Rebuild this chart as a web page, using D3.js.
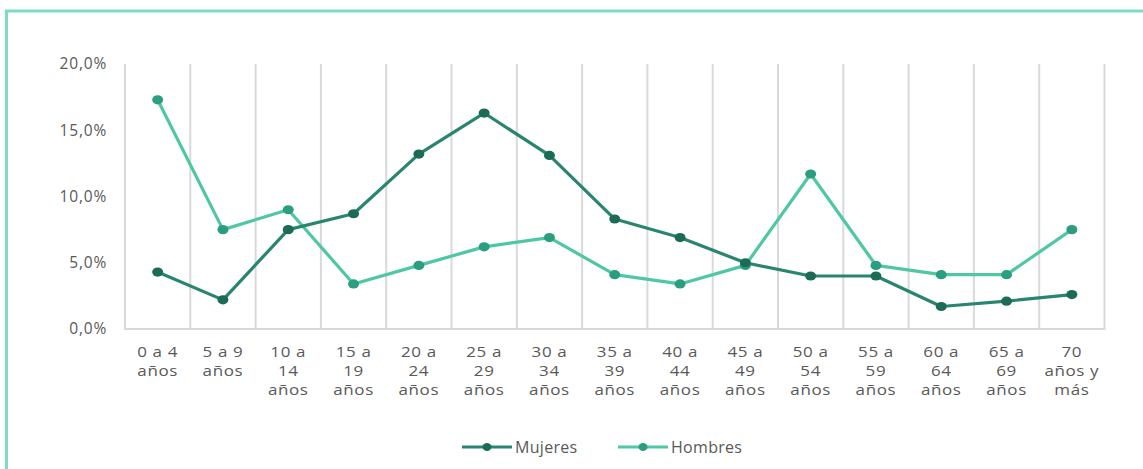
<!DOCTYPE html>
<html>
<head>
<meta charset="utf-8">
<script src="https://cdn.jsdelivr.net/npm/d3@7"></script>
<style>
  html, body { margin: 0; padding: 0; background: #fff; }
  svg { display: block; }
  text { font-family: "Open Sans", "DejaVu Sans", sans-serif; fill: #595959; }
</style>
</head>
<body>
<svg id="chart" width="1143" height="469"></svg>
<script>
const categories = ["0 a 4\naños", "5 a 9\naños", "10 a\n14\naños", "15 a\n19\naños", "20 a\n24\naños",
  "25 a\n29\naños", "30 a\n34\naños", "35 a\n39\naños", "40 a\n44\naños", "45 a\n49\naños",
  "50 a\n54\naños", "55 a\n59\naños", "60 a\n64\naños", "65 a\n69\naños", "70\naños y\nmás"];
const mujeres = [4.3, 2.2, 7.5, 8.7, 13.2, 16.3, 13.1, 8.3, 6.9, 5.0, 4.0, 4.0, 1.7, 2.1, 2.6];
const hombres = [17.3, 7.5, 9.0, 3.4, 4.8, 6.2, 6.9, 4.1, 3.4, 4.8, 11.7, 4.8, 4.1, 4.1, 7.5];
const yTicks = [0, 5, 10, 15, 20];
const seriesNames = ["Mujeres", "Hombres"];

const svg = d3.select("#chart");
const W = 1143, H = 469;

// frame
svg.append("path")
  .attr("d", `M6.5,${H} V11 H${W}`)
  .attr("fill", "none").attr("stroke", "#7fdcc4").attr("stroke-width", 3);

const plot = { left: 125, right: 1104.5, top: 64, bottom: 329 };

const x = d3.scaleBand().domain(categories).range([plot.left, plot.right]).paddingInner(0).paddingOuter(0);
const y = d3.scaleLinear().domain([0, 20]).range([plot.bottom, plot.top]);

// vertical grid lines at band boundaries
const bounds = categories.map(c => x(c)).concat([plot.right]);
svg.append("g").selectAll("line").data(bounds).join("line")
  .attr("x1", d => d).attr("x2", d => d)
  .attr("y1", plot.top).attr("y2", plot.bottom)
  .attr("stroke", "#d9d9d9").attr("stroke-width", 2);

// bottom axis line
svg.append("line")
  .attr("x1", plot.left - 1).attr("x2", plot.right + 1)
  .attr("y1", y(0)).attr("y2", y(0))
  .attr("stroke", "#d9d9d9").attr("stroke-width", 2);

// y axis labels
const yAxis = d3.axisLeft(y).tickValues(yTicks).tickSize(0).tickPadding(18)
  .tickFormat(d => d3.format(".1f")(d).replace(".", ",") + "%");
const yg = svg.append("g").attr("transform", `translate(${plot.left},0)`).call(yAxis);
yg.select(".domain").remove();
yg.selectAll("text").attr("font-size", 15.5).attr("letter-spacing", 0.8)
  .style("font-family", '"Open Sans", sans-serif').attr("fill", "#595959");

// x labels (one text per line, slightly widened like the reference)
const xg = svg.append("g");
categories.forEach(c => {
  const lines = c.split("\n");
  const cx = x(c) + x.bandwidth() / 2;
  lines.forEach((l, i) => {
    xg.append("text")
      .attr("transform", `translate(${cx},${357 + i * 19}) scale(1.25,1)`)
      .attr("text-anchor", "middle")
      .attr("font-size", 13.6)
      .attr("letter-spacing", 0.5)
      .text(l);
  });
});

const series = [
  { name: seriesNames[0], values: mujeres, line: "#2a8570", marker: "#1c6b56" },
  { name: seriesNames[1], values: hombres, line: "#4fc7a4", marker: "#2b9d81" }
];

const lineGen = d3.line()
  .x((d, i) => x(categories[i]) + x.bandwidth() / 2)
  .y(d => y(d));

[series[1], series[0]].forEach(s => {
  svg.append("path").datum(s.values)
    .attr("d", lineGen).attr("fill", "none")
    .attr("stroke", s.line).attr("stroke-width", 3.2)
    .attr("stroke-linejoin", "round");
  svg.append("g").selectAll("ellipse").data(s.values).join("ellipse")
    .attr("cx", (d, i) => x(categories[i]) + x.bandwidth() / 2)
    .attr("cy", d => y(d))
    .attr("rx", 5.5).attr("ry", 4.6)
    .attr("fill", s.marker);
});

// legend
const legendItems = [{ s: series[0], x0: 462 }, { s: series[1], x0: 618 }];
legendItems.forEach(({ s, x0 }) => {
  const g = svg.append("g");
  g.append("line").attr("x1", x0).attr("x2", x0 + 50).attr("y1", 447).attr("y2", 447)
    .attr("stroke", s.line).attr("stroke-width", 3.2);
  g.append("ellipse").attr("cx", x0 + 25).attr("cy", 447).attr("rx", 4.5).attr("ry", 4)
    .attr("fill", s.marker);
  g.append("text").attr("x", x0 + 53).attr("y", 453).attr("font-size", 16)
    .attr("letter-spacing", 0.3).text(s.name);
});
</script>
</body>
</html>
